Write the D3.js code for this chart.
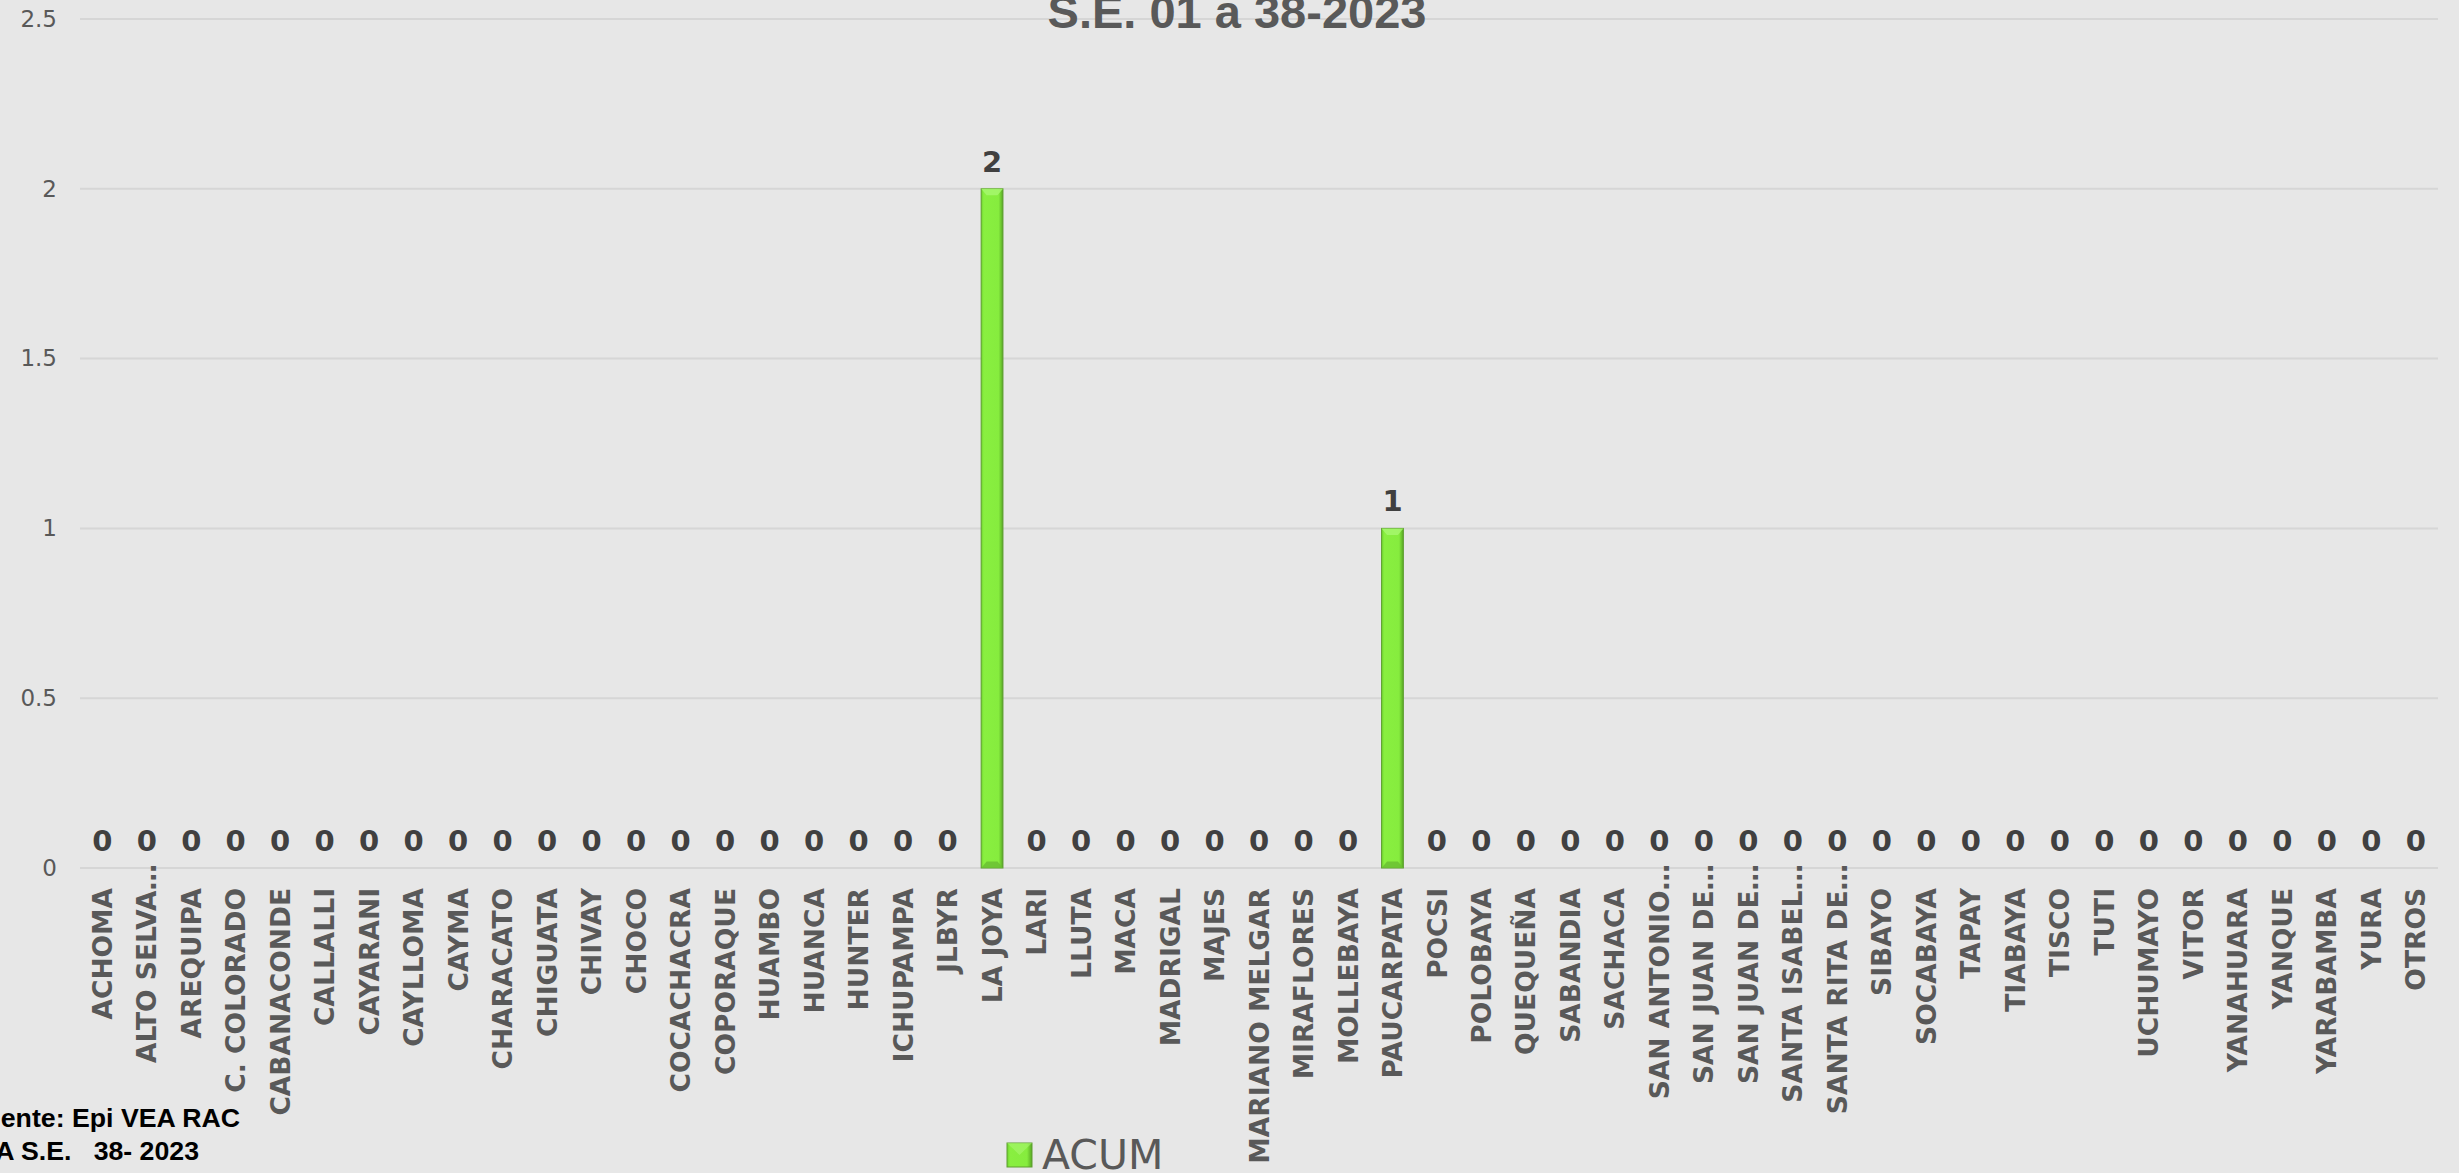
<!DOCTYPE html>
<html>
<head>
<meta charset="utf-8">
<script src="https://cdn.jsdelivr.net/npm/d3@7"></script>
<style>
  body { margin: 0; background: #e7e7e7; }
  svg { display: block; }
</style>
</head>
<body>
<div id="grafica"></div>
<script>
// datos
var distritos = ["ACHOMA", "ALTO SELVA…", "AREQUIPA", "C. COLORADO", "CABANACONDE", "CALLALLI",
  "CAYARANI", "CAYLLOMA", "CAYMA", "CHARACATO", "CHIGUATA", "CHIVAY", "CHOCO", "COCACHACRA",
  "COPORAQUE", "HUAMBO", "HUANCA", "HUNTER", "ICHUPAMPA", "JLBYR", "LA JOYA", "LARI", "LLUTA",
  "MACA", "MADRIGAL", "MAJES", "MARIANO MELGAR", "MIRAFLORES", "MOLLEBAYA", "PAUCARPATA", "POCSI",
  "POLOBAYA", "QUEQUEÑA", "SABANDIA", "SACHACA", "SAN ANTONIO…", "SAN JUAN DE…", "SAN JUAN DE…",
  "SANTA ISABEL…", "SANTA RITA DE…", "SIBAYO", "SOCABAYA", "TAPAY", "TIABAYA", "TISCO", "TUTI",
  "UCHUMAYO", "VITOR", "YANAHUARA", "YANQUE", "YARABAMBA", "YURA", "OTROS"];

var acum = [0, 0, 0, 0, 0, 0, 0, 0, 0, 0, 0, 0, 0, 0, 0, 0, 0, 0, 0, 0, 2, 0, 0, 0, 0, 0, 0, 0, 0, 1,
  0, 0, 0, 0, 0, 0, 0, 0, 0, 0, 0, 0, 0, 0, 0, 0, 0, 0, 0, 0, 0, 0, 0];

var yTicks = [0, 0.5, 1, 1.5, 2, 2.5];

var titulo = "S.E. 01 a 38-2023";
var fuente = ["Fuente: Epi VEA RAC", "HASTA S.E.   38- 2023"];
var serie = "ACUM";

var w = 2459,
    h = 1173;

var margin = { top: 19, right: 21, bottom: 305, left: 80 };

var svg = d3.select("#grafica")
    .append("svg")
    .attr("width", w)
    .attr("height", h);

// fondo
svg.append("rect")
    .attr("width", w)
    .attr("height", h)
    .attr("fill", "#e7e7e7");

var defs = svg.append("defs");
var grad = defs.append("linearGradient")
    .attr("id", "verde")
    .attr("x1", "0%").attr("x2", "100%")
    .attr("y1", "0%").attr("y2", "0%");
grad.append("stop").attr("offset", "0%").attr("stop-color", "#6fd22f");
grad.append("stop").attr("offset", "12%").attr("stop-color", "#89ef40");
grad.append("stop").attr("offset", "80%").attr("stop-color", "#86ec3e");
grad.append("stop").attr("offset", "100%").attr("stop-color", "#58a824");

var x = d3.scaleBand()
    .domain(d3.range(distritos.length))
    .range([margin.left, w - margin.right])
    .paddingInner(0.51)
    .paddingOuter(0.255);

var y = d3.scaleLinear()
    .domain([0, 2.5])
    .range([h - margin.bottom, margin.top]);

// lineas de cuadricula
svg.selectAll(".grid")
    .data(yTicks)
    .enter()
    .append("line")
    .attr("x1", margin.left)
    .attr("x2", w - margin.right)
    .attr("y1", function(d) { return y(d); })
    .attr("y2", function(d) { return y(d); })
    .attr("stroke", "#d6d6d6")
    .attr("stroke-width", 2);

// eje y
var yAxis = svg.append("g")
    .attr("transform", "translate(" + (margin.left - 23) + ",0)")
    .call(d3.axisLeft(y).tickValues(yTicks).tickSize(0).tickPadding(0).tickFormat(d3.format("")));
yAxis.select(".domain").remove();
yAxis.selectAll("text")
    .attr("fill", "#595959")
    .style("font-family", "DejaVu Sans")
    .style("font-size", "23px");

// barras
var barras = svg.selectAll(".barra")
    .data(acum)
    .enter()
    .append("g")
    .attr("class", "barra")
    .filter(function(d) { return d > 0; });

barras.append("rect")
    .attr("x", function(d, i) { return x(acum.indexOf(d)); })
    .attr("y", function(d) { return y(d); })
    .attr("width", x.bandwidth())
    .attr("height", function(d) { return y(0) - y(d); })
    .attr("fill", "url(#verde)")
    .attr("stroke", "#5e9f30")
    .attr("stroke-width", 1);

// bisel superior
barras.append("polygon")
    .attr("points", function(d) {
        var x0 = x(acum.indexOf(d)), x1 = x0 + x.bandwidth(), t = y(d), b = x.bandwidth();
        return [[x0, t], [x1, t], [x1 - b * 0.25, t + b * 0.3], [x0 + b * 0.25, t + b * 0.3]].join(" ");
    })
    .attr("fill", "#a8f770")
    .attr("opacity", 0.8);

// bisel inferior
barras.append("polygon")
    .attr("points", function(d) {
        var x0 = x(acum.indexOf(d)), x1 = x0 + x.bandwidth(), t = y(0), b = x.bandwidth();
        return [[x0, t], [x1, t], [x1 - b * 0.25, t - b * 0.3], [x0 + b * 0.25, t - b * 0.3]].join(" ");
    })
    .attr("fill", "#69bd33")
    .attr("opacity", 0.8);

// etiquetas de valores
svg.selectAll(".valor")
    .data(acum)
    .enter()
    .append("text")
    .attr("x", function(d, i) { return x(i) + x.bandwidth() / 2; })
    .attr("y", function(d) { return y(d) - 17; })
    .attr("text-anchor", "middle")
    .attr("fill", "#404040")
    .style("font-family", "DejaVu Sans")
    .style("font-weight", "bold")
    .style("font-size", "29px")
    .text(function(d) { return d; });

// etiquetas de distritos
svg.selectAll(".distrito")
    .data(distritos)
    .enter()
    .append("text")
    .attr("transform", function(d, i) {
        var off = d.slice(-1) == "…" ? 24 : 0;
        return "translate(" + (x(i) + x.bandwidth() / 2) + "," + (y(0) + 20 - off) + ") rotate(-90)";
    })
    .attr("dy", "0.36em")
    .attr("text-anchor", "end")
    .attr("fill", "#595959")
    .style("font-family", "DejaVu Sans")
    .style("font-weight", "bold")
    .style("font-size", "26.5px")
    .text(function(d) { return d; });

// titulo
svg.append("text")
    .attr("x", 1237)
    .attr("y", 28)
    .attr("text-anchor", "middle")
    .attr("fill", "#595959")
    .style("font-family", "Liberation Sans")
    .style("font-weight", "bold")
    .style("font-size", "47px")
    .text(titulo);

// fuente
svg.selectAll(".fuente")
    .data(fuente)
    .enter()
    .append("text")
    .attr("x", function(d, i) { return i == 0 ? 240 : 199; })
    .attr("y", function(d, i) { return 1127 + i * 33; })
    .attr("text-anchor", "end")
    .attr("xml:space", "preserve")
    .attr("fill", "#000000")
    .style("font-family", "Liberation Sans")
    .style("font-weight", "bold")
    .style("font-size", "26.7px")
    .style("white-space", "pre")
    .text(function(d) { return d; });

// leyenda
var ley = svg.append("g").attr("transform", "translate(1007,1143)");
ley.append("rect")
    .attr("width", 25)
    .attr("height", 24)
    .attr("fill", "url(#verde)")
    .attr("stroke", "#5e9f30");
ley.append("polygon")
    .attr("points", "0,0 25,0 12.5,12")
    .attr("fill", "#a8f770")
    .attr("opacity", 0.6);
ley.append("text")
    .attr("x", 35)
    .attr("y", 26)
    .attr("fill", "#595959")
    .style("font-family", "DejaVu Sans")
    .style("font-size", "41px")
    .text(serie);
</script>
</body>
</html>
